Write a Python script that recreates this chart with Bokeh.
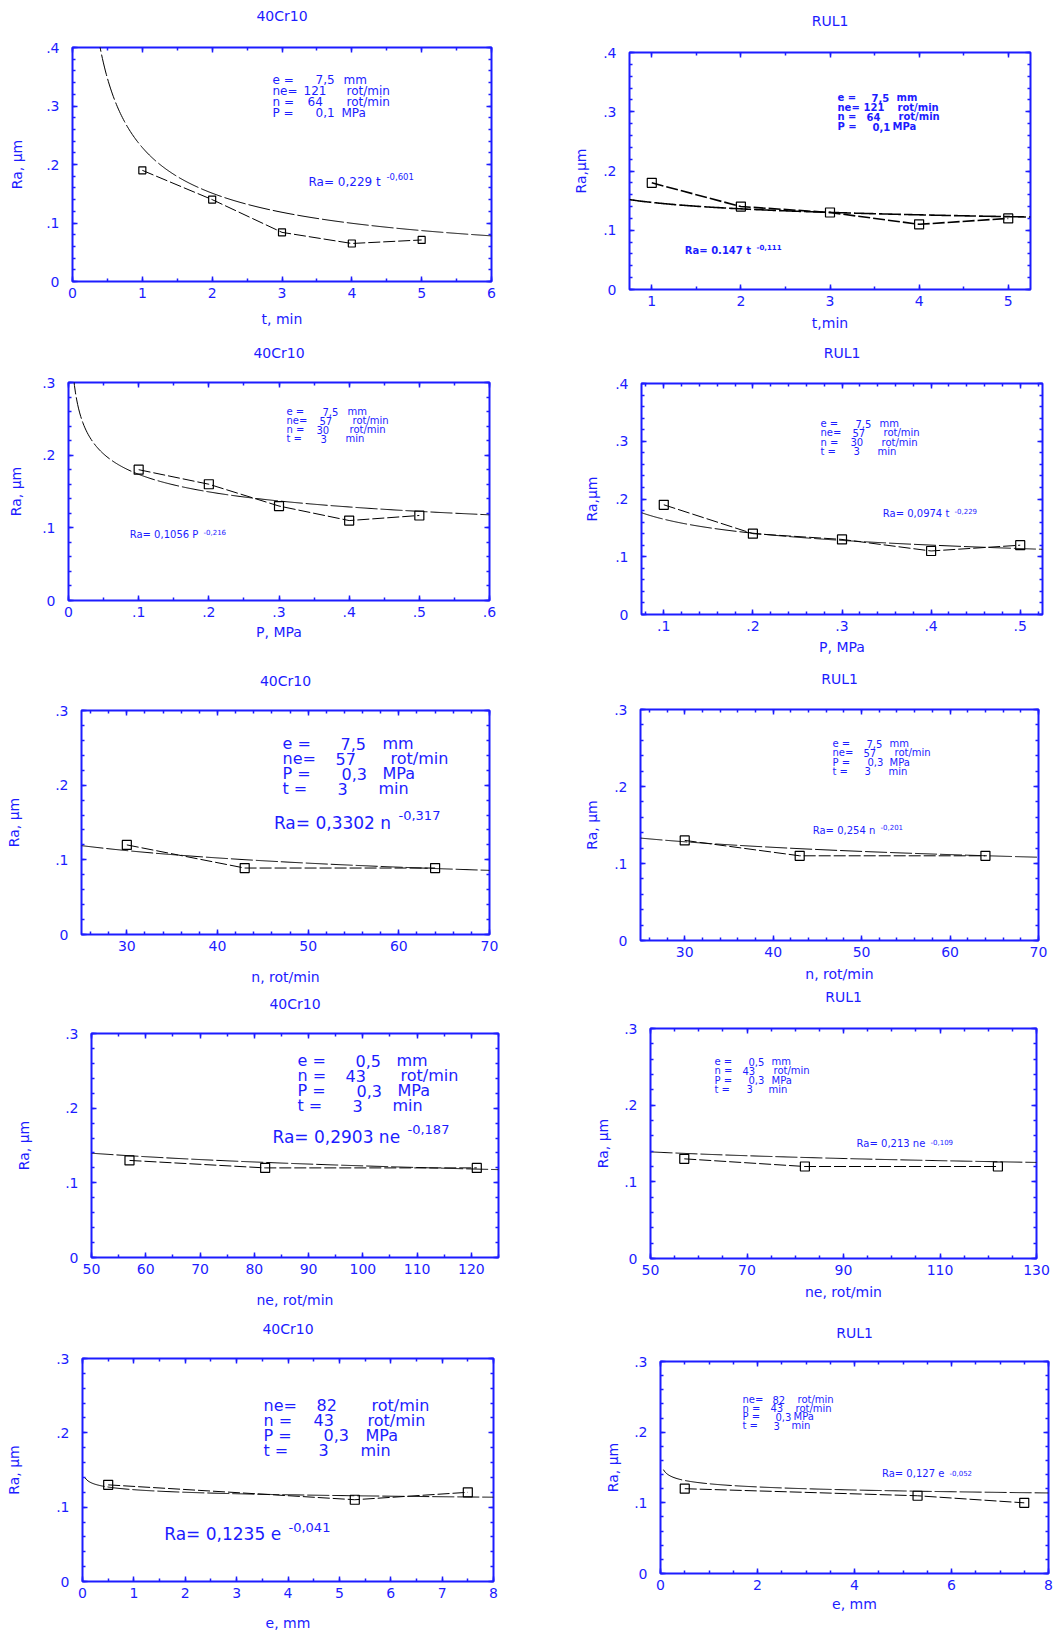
import numpy as np
from bokeh.plotting import figure
from bokeh.models import Range1d, LinearAxis, FixedTicker
from bokeh.layouts import column, row
from bokeh.embed import file_html
from bokeh.resources import INLINE
from bokeh.core.properties import value

# ------------------------------------------------------------------ data
t_min = [1, 2, 3, 4, 5]
ra_40cr10_t = [0.19, 0.14, 0.084, 0.065, 0.071]
ra_rul1_t = [0.18, 0.14, 0.13, 0.11, 0.12]

p_mpa = [0.1, 0.2, 0.3, 0.4, 0.5]
ra_40cr10_p = [0.18, 0.16, 0.13, 0.11, 0.117]
ra_rul1_p = [0.19, 0.14, 0.13, 0.11, 0.12]

n_rpm = [30, 43, 64]
ra_40cr10_n = [0.12, 0.089, 0.089]
ra_rul1_n = [0.13, 0.11, 0.11]

ne_rpm_40cr10 = [57, 82, 121]
ne_rpm_rul1 = [57, 82, 122]
ra_40cr10_ne = [0.13, 0.12, 0.12]
ra_rul1_ne = [0.13, 0.12, 0.12]

e_mm = [0.5, 5.3, 7.5]
ra_40cr10_e = [0.13, 0.11, 0.12]
ra_rul1_e = [0.12, 0.11, 0.10]

# power-law fits printed on each chart: Ra = a * x^b
fit_40cr10_t = [0.229, -0.601]
fit_rul1_t = [0.147, -0.111]
fit_40cr10_p = [0.1056, -0.216]
fit_rul1_p = [0.0974, -0.229]
fit_40cr10_n = [0.3302, -0.317]
fit_rul1_n = [0.254, -0.201]
fit_40cr10_ne = [0.2903, -0.187]
fit_rul1_ne = [0.213, -0.109]
fit_40cr10_e = [0.1235, -0.041]
fit_rul1_e = [0.127, -0.052]

# tick values / labels
y_ticks_04 = [0, 0.1, 0.2, 0.3, 0.4]
y_labels_04 = ["0", ".1", ".2", ".3", ".4"]
y_ticks_03 = [0, 0.1, 0.2, 0.3]
y_labels_03 = ["0", ".1", ".2", ".3"]
x_ticks_t6 = [0, 1, 2, 3, 4, 5, 6]
x_labels_t6 = ["0", "1", "2", "3", "4", "5", "6"]
x_ticks_t5 = [1, 2, 3, 4, 5]
x_labels_t5 = ["1", "2", "3", "4", "5"]
x_ticks_p6 = [0, 0.1, 0.2, 0.3, 0.4, 0.5, 0.6]
x_labels_p6 = ["0", ".1", ".2", ".3", ".4", ".5", ".6"]
x_ticks_p5 = [0.1, 0.2, 0.3, 0.4, 0.5]
x_labels_p5 = [".1", ".2", ".3", ".4", ".5"]
x_ticks_n = [30, 40, 50, 60, 70]
x_labels_n = ["30", "40", "50", "60", "70"]
x_ticks_ne1 = [50, 60, 70, 80, 90, 100, 110, 120]
x_labels_ne1 = ["50", "60", "70", "80", "90", "100", "110", "120"]
x_ticks_ne2 = [50, 70, 90, 110, 130]
x_labels_ne2 = ["50", "70", "90", "110", "130"]
x_ticks_e1 = [0, 1, 2, 3, 4, 5, 6, 7, 8]
x_labels_e1 = ["0", "1", "2", "3", "4", "5", "6", "7", "8"]
x_ticks_e2 = [0, 2, 4, 6, 8]
x_labels_e2 = ["0", "2", "4", "6", "8"]

# ------------------------------------------------------------------ style
BLUE = "#1c1cff"
FONT = "DejaVu Sans"


def minor(a, b, step):
    n = int(round((b - a) / step))
    return [round(a + i * step, 4) for i in range(n + 1)]


BLK_TVP = [("e =", "7,5", "mm"), ("ne=", "121", "rot/min"), ("n =", "64", "rot/min"), ("P =", "0,1", "MPa")]
BLK_P = [("e =", "7,5", "mm"), ("ne=", "57", "rot/min"), ("n =", "30", "rot/min"), ("t =", "3", "min")]
BLK_N = [("e =", "7,5", "mm"), ("ne=", "57", "rot/min"), ("P =", "0,3", "MPa"), ("t =", "3", "min")]
BLK_NE = [("e =", "0,5", "mm"), ("n =", "43", "rot/min"), ("P =", "0,3", "MPa"), ("t =", "3", "min")]
BLK_E = [("ne=", "82", "rot/min"), ("n =", "43", "rot/min"), ("P =", "0,3", "MPa"), ("t =", "3", "min")]

# cell = (x, y, w, h) of each figure on the page; frame = (left, top, right, bottom)
panels = [
    dict(title="40Cr10", cell=(0, 0, 531, 334), frame=(72, 47, 491, 281), xr=(0, 6), yr=(0, 0.4),
         xt=(x_ticks_t6, x_labels_t6), xm=minor(0, 6, 0.5), yt=(y_ticks_04, y_labels_04),
         xlabel="t, min", ylabel="Ra, µm", x=t_min, y=ra_40cr10_t, fit=fit_40cr10_t, fx=(0.3, 6),
         msize=7, lw=1, xls=10, yls=18, tsp=24,
         blk=BLK_TVP, bx=272, by=79, bdy=11, bfs=12, vo=[43, 31, 35, 43], uo=[71, 74, 74, 69], bold=False,
         f=("Ra= 0,229  t", 299, 181, 12), ex=("-0,601", 386, 176, 8.5)),
    dict(title="RUL1", cell=(531, 0, 531, 336), frame=(629, 52, 1030, 289), xr=(0.75, 5.25), yr=(0, 0.4),
         xt=(x_ticks_t5, x_labels_t5), xm=minor(1, 5, 0.5), yt=(y_ticks_04, y_labels_04),
         xlabel="t,min", ylabel="Ra,µm", x=t_min, y=ra_rul1_t, fit=fit_rul1_t, fx=(0.75, 5.25),
         msize=9, lw=1.6, xls=6, yls=11, tsp=24,
         blk=BLK_TVP, bx=837, by=97, bdy=9.7, bfs=10, vo=[34, 26, 29, 35], uo=[59, 60, 61, 55], bold=True,
         f=("Ra= 0.147  t", 688, 250, 10), ex=("-0,111", 756, 246, 7)),
    dict(title="40Cr10", cell=(0, 334, 531, 321), frame=(68, 382, 489, 600), xr=(0, 0.6), yr=(0, 0.3),
         xt=(x_ticks_p6, x_labels_p6), xm=minor(0, 0.6, 0.05), yt=(y_ticks_03, y_labels_03),
         xlabel="P, MPa", ylabel="Ra, µm", x=p_mpa, y=ra_40cr10_p, fit=fit_40cr10_p, fx=(0.004, 0.6),
         msize=9, lw=1, xls=4, yls=15, tsp=22,
         blk=BLK_P, bx=286, by=411, bdy=9, bfs=10, vo=[36, 33, 30, 34], uo=[61, 66, 63, 59], bold=False,
         f=("Ra= 0,1056  P", 124, 534, 10), ex=("-0,216", 203, 531, 7)),
    dict(title="RUL1", cell=(531, 336, 531, 325), frame=(641, 383, 1042, 614), xr=(0.075, 0.525), yr=(0, 0.4),
         xt=(x_ticks_p5, x_labels_p5), xm=minor(0.08, 0.52, 0.02), yt=(y_ticks_04, y_labels_04),
         xlabel="P, MPa", ylabel="Ra,µm", x=p_mpa, y=ra_rul1_p, fit=fit_rul1_p, fx=(0.075, 0.525),
         msize=9, lw=1, xls=5, yls=12, tsp=23,
         blk=BLK_P, bx=820, by=423, bdy=9.3, bfs=10, vo=[35, 32, 30, 33], uo=[59, 63, 61, 57], bold=False,
         f=("Ra= 0,0974  t", 875, 513, 10), ex=("-0,229", 954, 510, 7)),
    dict(title="40Cr10", cell=(0, 655, 531, 333), frame=(81, 710, 489, 934), xr=(25, 70), yr=(0, 0.3),
         xt=(x_ticks_n, x_labels_n), xm=minor(26, 70, 2), yt=(y_ticks_03, y_labels_03),
         xlabel="n, rot/min", ylabel="Ra, µm", x=n_rpm, y=ra_40cr10_n, fit=fit_40cr10_n, fx=(25, 70),
         msize=9, lw=1, xls=15, yls=30, tsp=22,
         blk=BLK_N, bx=282, by=743, bdy=15, bfs=16, vo=[58, 53, 59, 55], uo=[100, 108, 100, 96], bold=False,
         f=("Ra= 0,3302  n", 254, 822, 17), ex=("-0,317", 398, 815, 13)),
    dict(title="RUL1", cell=(531, 661, 531, 323), frame=(640, 709, 1038, 940), xr=(25, 70), yr=(0, 0.3),
         xt=(x_ticks_n, x_labels_n), xm=minor(26, 70, 2), yt=(y_ticks_03, y_labels_03),
         xlabel="n, rot/min", ylabel="Ra, µm", x=n_rpm, y=ra_rul1_n, fit=fit_rul1_n, fx=(25, 70),
         msize=9, lw=1, xls=6, yls=11, tsp=23,
         blk=BLK_N, bx=832, by=743, bdy=9.3, bfs=10, vo=[34, 31, 35, 32], uo=[57, 62, 57, 56], bold=False,
         f=("Ra= 0,254  n", 809, 830, 10), ex=("-0,201", 880, 826, 7)),
    dict(title="40Cr10", cell=(0, 988, 531, 324), frame=(91, 1033, 498, 1257), xr=(50, 125), yr=(0, 0.3),
         xt=(x_ticks_ne1, x_labels_ne1), xm=minor(50, 125, 5), yt=(y_ticks_03, y_labels_03),
         xlabel="ne, rot/min", ylabel="Ra, µm", x=ne_rpm_40cr10, y=ra_40cr10_ne, fit=fit_40cr10_ne, fx=(50, 125),
         msize=9, lw=1, xls=15, yls=30, tsp=22,
         blk=BLK_NE, bx=297, by=1060, bdy=15, bfs=16, vo=[58, 48, 59, 55], uo=[99, 103, 100, 95], bold=False,
         f=("Ra= 0,2903  ne", 251, 1136, 17), ex=("-0,187", 407, 1129, 13)),
    dict(title="RUL1", cell=(531, 984, 531, 326), frame=(650, 1028, 1036, 1258), xr=(50, 130), yr=(0, 0.3),
         xt=(x_ticks_ne2, x_labels_ne2), xm=minor(50, 130, 5), yt=(y_ticks_03, y_labels_03),
         xlabel="ne, rot/min", ylabel="Ra, µm", x=ne_rpm_rul1, y=ra_rul1_ne, fit=fit_rul1_ne, fx=(50, 130),
         msize=9, lw=1, xls=6, yls=10, tsp=24,
         blk=BLK_NE, bx=714, by=1061, bdy=9.3, bfs=10, vo=[34, 28, 34, 32], uo=[57, 59, 57, 54], bold=False,
         f=("Ra= 0,213  ne", 852, 1143, 10), ex=("-0,109", 930, 1141, 7)),
    dict(title="40Cr10", cell=(0, 1312, 531, 321), frame=(82, 1358, 493, 1582), xr=(0, 8), yr=(0, 0.3),
         xt=(x_ticks_e1, x_labels_e1), xm=minor(0, 8, 0.5), yt=(y_ticks_03, y_labels_03),
         xlabel="e, mm", ylabel="Ra, µm", x=e_mm, y=ra_40cr10_e, fit=fit_40cr10_e, fx=(0.05, 8),
         msize=9, lw=1, xls=14, yls=31, tsp=22,
         blk=BLK_E, bx=263, by=1405, bdy=15, bfs=16, vo=[53, 50, 60, 55], uo=[108, 104, 102, 97], bold=False,
         f=("Ra= 0,1235  e", 147, 1534, 17), ex=("-0,041", 288, 1528, 13)),
    dict(title="RUL1", cell=(531, 1310, 531, 323), frame=(660, 1361, 1048, 1573), xr=(0, 8), yr=(0, 0.3),
         xt=(x_ticks_e2, x_labels_e2), xm=minor(0, 8, 0.5), yt=(y_ticks_03, y_labels_03),
         xlabel="e, mm", ylabel="Ra, µm", x=e_mm, y=ra_rul1_e, fit=fit_rul1_e, fx=(0.06, 8),
         msize=9, lw=1, xls=3, yls=10, tsp=21,
         blk=BLK_E, bx=742, by=1399, bdy=8.7, bfs=10, vo=[30, 28, 33, 31], uo=[55, 53, 51, 49], bold=False,
         f=("Ra= 0,127  e", 878, 1473, 10), ex=("-0,052", 949, 1472, 7)),
]


def style_axis(ax, ticks, labels, show):
    ax.axis_line_color = None
    ax.major_tick_in = 5
    ax.major_tick_out = 0
    ax.minor_tick_in = 3
    ax.minor_tick_out = 0
    ax.major_tick_line_color = BLUE
    ax.minor_tick_line_color = BLUE
    ax.major_tick_line_width = 1.5
    ax.minor_tick_line_width = 1.5
    ax.major_label_text_font = FONT
    ax.major_label_text_color = BLUE
    ax.axis_label_text_font = FONT
    ax.axis_label_text_color = BLUE
    ax.axis_label_text_font_style = "normal"
    ax.axis_label_text_font_size = "14px"
    if show:
        ax.major_label_text_font_size = "14px"
        ax.major_label_overrides = dict(zip(ticks, labels))
    else:
        ax.major_label_text_font_size = "1px"
        ax.major_label_standoff = 0
        ax.major_label_overrides = {t: "" for t in ticks}


def build(c):
    cx, cy, cw, ch = c["cell"]
    L, T, R, B = c["frame"]
    x0, x1 = c["xr"]
    y0, y1 = c["yr"]

    def dx(px):
        return x0 + (px - L) / (R - L) * (x1 - x0)

    def dy(py):
        return y0 + (B - py) / (B - T) * (y1 - y0)

    p = figure(width=cw, height=ch, x_range=Range1d(x0, x1), y_range=Range1d(y0, y1),
               output_backend="svg", toolbar_location=None,
               min_border_left=L - cx, min_border_right=cx + cw - R,
               min_border_top=T - cy, min_border_bottom=cy + ch - B,
               background_fill_color="white", border_fill_color="white",
               outline_line_color=BLUE, outline_line_width=2)
    p.grid.visible = False

    xt, xl = c["xt"]
    yt, yl = c["yt"]
    xtick = FixedTicker(ticks=xt, minor_ticks=c["xm"])
    ytick = FixedTicker(ticks=yt, minor_ticks=minor(y0, y1, 0.02))

    bx = p.below[0]
    bx.ticker = xtick
    style_axis(bx, xt, xl, True)
    bx.axis_label = c["xlabel"]
    bx.major_label_standoff = 6
    bx.axis_label_standoff = int(c["xls"])

    ly = p.left[0]
    ly.ticker = ytick
    style_axis(ly, yt, yl, True)
    ly.axis_label = c["ylabel"]
    ly.major_label_standoff = 13
    ly.axis_label_standoff = int(c["yls"])

    # mirrored top axis; its label carries the chart title
    top = LinearAxis(ticker=xtick)
    style_axis(top, xt, xl, False)
    top.axis_label = c["title"]
    top.axis_label_standoff = int(c["tsp"])
    p.add_layout(top, "above")
    right = LinearAxis(ticker=ytick)
    style_axis(right, yt, yl, False)
    p.add_layout(right, "right")

    a, b = c["fit"]
    xf = np.linspace(c["fx"][0], c["fx"][1], 400)
    yf = a * xf ** b
    p.line(xf, yf, line_color="black", line_width=c["lw"], line_dash="22 3")
    p.line(c["x"], c["y"], line_color="black", line_width=c["lw"], line_dash="12 3")
    p.scatter(c["x"], c["y"], marker="square", size=c["msize"], fill_color=None,
              line_color="black", line_width=1.2)

    xs, ys, txt = [], [], []
    for i, (lab, val, unit) in enumerate(c["blk"]):
        yy = dy(c["by"] + i * c["bdy"])
        xs += [dx(c["bx"]), dx(c["bx"] + c["vo"][i]), dx(c["bx"] + c["uo"][i])]
        ys += [yy, yy, yy]
        txt += [lab, val, unit]
    style = "bold" if c["bold"] else "normal"
    p.text(xs, ys, text=txt, text_font=value(FONT), text_font_size=value("%spx" % c["bfs"]),
           text_color=BLUE, text_baseline="middle", text_align="left", text_font_style=style)

    ft, fpx, fpy, ffs = c["f"]
    et, epx, epy, efs = c["ex"]
    # main formula text ends where the exponent starts
    p.text([dx(epx - 2)], [dy(fpy)], text=[ft], text_font=value(FONT), text_font_size=value("%spx" % ffs),
           text_color=BLUE, text_baseline="middle", text_align="right", text_font_style=style)
    p.text([dx(epx)], [dy(epy)], text=[et], text_font=value(FONT), text_font_size=value("%spx" % efs),
           text_color=BLUE, text_baseline="middle", text_align="left", text_font_style=style)
    return p


figs = [build(c) for c in panels]
left_col = column(*[row(figs[i]) for i in range(0, 10, 2)], spacing=0)
right_col = column(*[row(figs[i]) for i in range(1, 10, 2)], spacing=0)
layout = row(left_col, right_col, spacing=0)
open("out.html", "w").write(file_html(layout, INLINE))
